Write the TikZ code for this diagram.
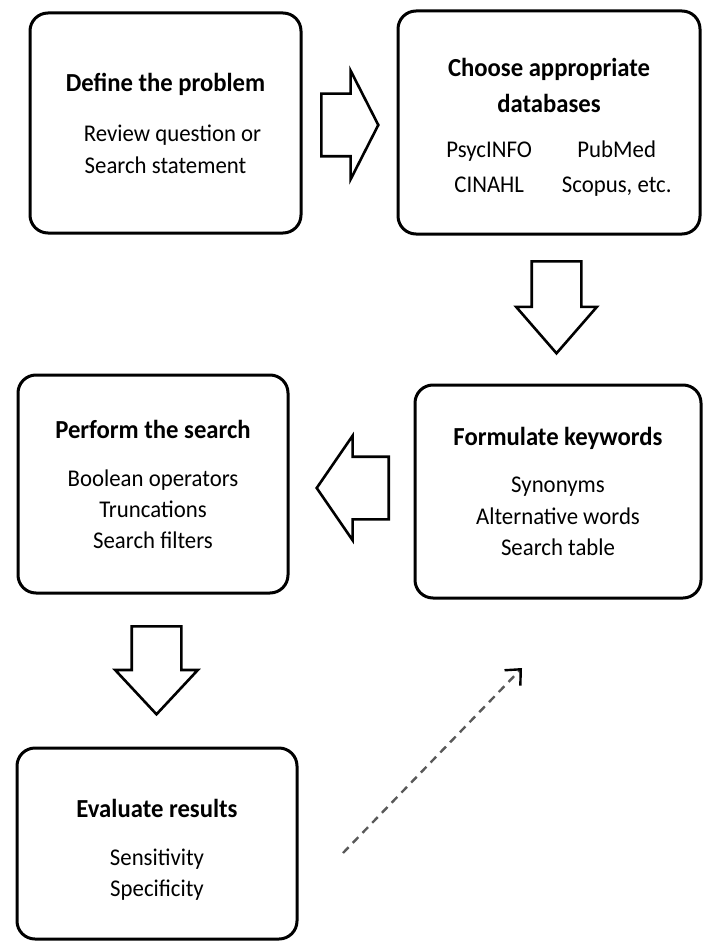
\documentclass[tikz,border=0pt]{standalone}
\usepackage{fontspec}
\setmainfont{Carlito}[FakeStretch=0.95]
\usetikzlibrary{shapes.arrows, arrows.meta}

\newcommand{\steptitle}[1]{{\fontsize{26}{30}\selectfont\bfseries #1}}

\begin{document}
\begin{tikzpicture}[x=1pt,y=-1pt,>={Straight Barb[length=12pt,width=22pt,black]},
  main node/.style={rectangle,rounded corners=18pt,draw,line width=3pt,align=center,
    inner sep=0pt,font=\fontsize{24}{31}\selectfont},
  block arrow/.style={single arrow,draw,line width=2.6pt,inner xsep=0pt,anchor=tail,
    minimum height=#1},
  dashed link/.style={->,draw=black!65,line width=2.4pt,dash pattern=on 8pt off 6pt}]

  \useasboundingbox (0,0) rectangle (703,941);

  \node[main node,minimum width=271pt,minimum height=220pt] (1) at (165.5,123)
    {\steptitle{Define the problem}\\[19pt]
     \hspace{14pt}Review question or\\[1pt] Search statement};
  \node[main node,minimum width=302pt,minimum height=223pt] (2) at (549,122.5)
    {\rule{0pt}{34pt}\steptitle{Choose appropriate}\\[5pt] \steptitle{databases}\\[20pt]
     \renewcommand{\arraystretch}{1.12}%
     \hspace{20pt}\begin{tabular}{@{}c@{\hspace{30pt}}c@{}}
       PsycINFO & PubMed\\
       CINAHL & Scopus, etc.
     \end{tabular}};
  \node[main node,minimum width=286pt,minimum height=213pt] (3) at (558,491.5)
    {\steptitle{Formulate keywords}\\[16pt]
     Synonyms\\[1pt] Alternative words\\ Search table};
  \node[main node,minimum width=270pt,minimum height=218pt] (4) at (153,484)
    {\steptitle{Perform the search}\\[17pt]
     Boolean operators\\ Truncations\\ Search filters};
  \node[main node,minimum width=280pt,minimum height=191pt] (5) at (157,843.5)
    {\rule{0pt}{30pt}\steptitle{Evaluate results}\\[17pt]
     Sensitivity\\ Specificity};

  % block arrows between the steps
  \node[block arrow=57pt,inner ysep=30pt,single arrow head extend=23pt,
    single arrow tip angle=126] (12) at (320,125) {};
  \node[block arrow=92pt,inner ysep=23.5pt,single arrow head extend=15.5pt,
    single arrow tip angle=82,rotate=-90] (23) at (556.5,260) {};
  \node[block arrow=72pt,inner ysep=30pt,single arrow head extend=21pt,
    single arrow tip angle=111,rotate=180] (34) at (390,488) {};
  \node[block arrow=88pt,inner ysep=23.5pt,single arrow head extend=16.5pt,
    single arrow tip angle=86,rotate=-90] (45) at (156.5,625) {};

  \coordinate (6) at (343,853);
  \coordinate (7) at (522,668);
  \path (6) edge [dashed link] (7);
\end{tikzpicture}
\end{document}
